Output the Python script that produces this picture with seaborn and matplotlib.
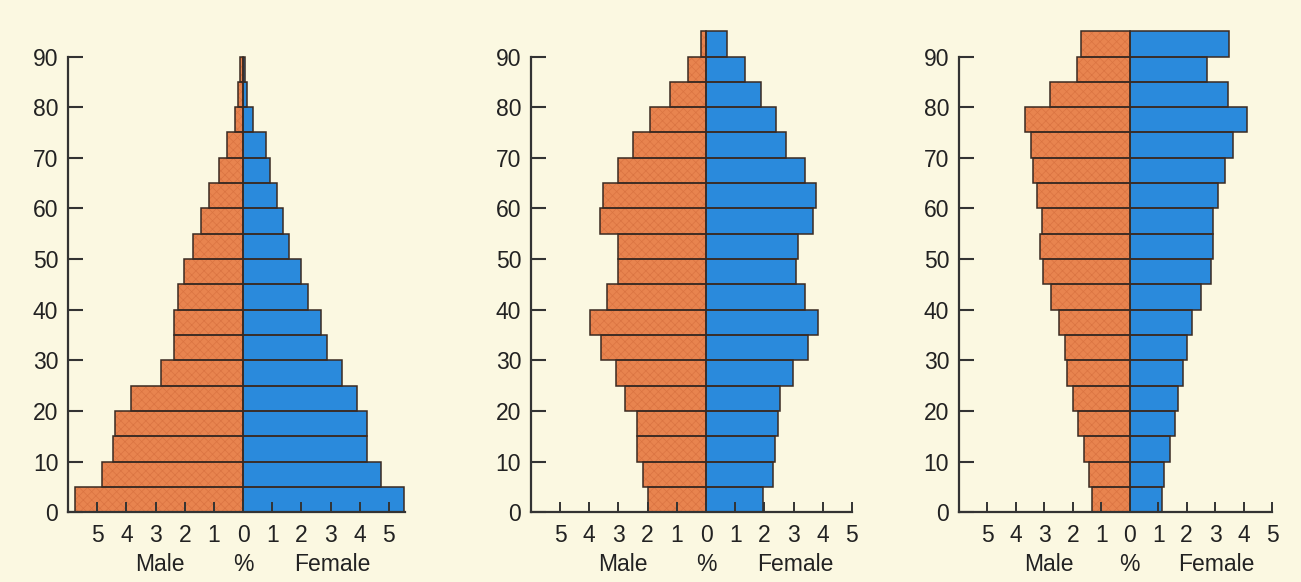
import numpy as np
import pandas as pd
import matplotlib
matplotlib.use("Agg")
import matplotlib.pyplot as plt
import seaborn as sns

# ---- data ----
age_start = [0, 5, 10, 15, 20, 25, 30, 35, 40, 45, 50, 55, 60, 65, 70, 75, 80, 85, 90]

male_1 = [5.75, 4.83, 4.47, 4.39, 3.84, 2.82, 2.36, 2.36, 2.22, 2.04, 1.73, 1.43, 1.16, 0.84, 0.54, 0.27, 0.16, 0.10, 0.0]
female_1 = [5.53, 4.74, 4.26, 4.26, 3.91, 3.39, 2.88, 2.68, 2.23, 2.00, 1.57, 1.36, 1.16, 0.93, 0.79, 0.33, 0.14, 0.06, 0.0]

male_2 = [1.98, 2.16, 2.37, 2.37, 2.77, 3.10, 3.61, 3.99, 3.39, 3.01, 3.01, 3.62, 3.53, 3.01, 2.50, 1.93, 1.23, 0.62, 0.16]
female_2 = [1.97, 2.29, 2.37, 2.47, 2.55, 2.97, 3.51, 3.85, 3.38, 3.07, 3.15, 3.67, 3.78, 3.38, 2.74, 2.41, 1.87, 1.34, 0.73]

male_3 = [1.33, 1.42, 1.60, 1.83, 2.00, 2.21, 2.28, 2.50, 2.77, 3.05, 3.16, 3.08, 3.26, 3.41, 3.47, 3.69, 2.79, 1.86, 1.71]
female_3 = [1.12, 1.22, 1.40, 1.58, 1.70, 1.86, 2.01, 2.18, 2.52, 2.85, 2.93, 2.94, 3.09, 3.36, 3.63, 4.11, 3.44, 2.71, 3.48]

x_ticks = [-5, -4, -3, -2, -1, 0, 1, 2, 3, 4, 5]
x_tick_labels = ["5", "4", "3", "2", "1", "0", "1", "2", "3", "4", "5"]
y_ticks = [0, 10, 20, 30, 40, 50, 60, 70, 80, 90]
sex_labels = ["Male", "%", "Female"]

# ---- style ----
BG = "#FBF8E1"
ORANGE = "#E8844F"
ORANGE_HATCH = "#DA7442"
BLUE = "#2A8ADC"
EDGE = "#3A2A22"
AXC = "#333333"
TXT = "#222222"
FS = 16.5

sns.set_theme(style="white", rc={"axes.facecolor": BG, "figure.facecolor": BG})
plt.rcParams["font.family"] = ["Liberation Sans", "DejaVu Sans"]
plt.rcParams["hatch.linewidth"] = 0.5

fig = plt.figure(figsize=(13.01, 5.82), dpi=100)

bottom = 0.120
height = 0.835
panels = [
    (0.0523, 0.2590, (-6, 5.55), male_1, female_1),
    (0.4081, 0.2467, (-6, 5.0), male_2, female_2),
    (0.7371, 0.2406, (-6, 5.0), male_3, female_3),
]

for left, width, xlim, male, female in panels:
    ax = fig.add_axes([left, bottom, width, height])
    mid = np.array(age_start) + 2.5
    dm = pd.DataFrame({"age": mid, "pct": -np.array(male)})
    dff = pd.DataFrame({"age": mid, "pct": np.array(female)})
    dm = dm[dm.pct != 0]
    dff = dff[dff.pct != 0]
    # filled, textured male bars
    sns.barplot(data=dm, x="pct", y="age", orient="h", native_scale=True,
                width=1.0, color=ORANGE, saturation=1, edgecolor=ORANGE_HATCH,
                hatch="xxxx", linewidth=0, errorbar=None, ax=ax, zorder=1)
    sns.barplot(data=dff, x="pct", y="age", orient="h", native_scale=True,
                width=1.0, color=BLUE, saturation=1, linewidth=0,
                errorbar=None, ax=ax, zorder=1)
    # outlines
    for d in (dm, dff):
        sns.barplot(data=d, x="pct", y="age", orient="h", native_scale=True,
                    width=1.0, fill=False, color=EDGE, edgecolor=EDGE, linewidth=1.1,
                    errorbar=None, ax=ax, zorder=2)

    ax.set_axisbelow(False)
    ax.set_xlim(*xlim)
    ax.set_ylim(0, 96)
    ax.set_xticks(x_ticks)
    ax.set_xticklabels(x_tick_labels)
    ax.set_yticks(y_ticks)
    ax.set_yticklabels([str(v) for v in y_ticks])
    ax.set_xlabel("")
    ax.set_ylabel("")

    for s in ["top", "right"]:
        ax.spines[s].set_visible(False)
    for s in ["left", "bottom"]:
        ax.spines[s].set_visible(True)
        ax.spines[s].set_color(AXC)
        ax.spines[s].set_linewidth(1.6)
        ax.spines[s].set_zorder(3)
    ax.spines["left"].set_bounds(0, 90)
    ax.spines["bottom"].set_bounds(xlim[0], xlim[1])

    ax.tick_params(axis="y", direction="in", length=11, width=1.5, color=AXC,
                   labelsize=FS, pad=7, labelcolor=TXT, left=True)
    ax.tick_params(axis="x", direction="in", length=7.5, width=1.4, color=AXC,
                   labelsize=FS, pad=8.5, labelcolor=TXT, bottom=True)
    ax.grid(False)

    trans = matplotlib.transforms.blended_transform_factory(ax.transData, ax.transAxes)
    for xpos, lab in zip([-2.85, 0.0, 3.05], sex_labels):
        ax.text(xpos, -0.107, lab, transform=trans, ha="center", va="center",
                fontsize=FS, color=TXT)

fig.savefig("out.png", dpi=100, facecolor=BG)
